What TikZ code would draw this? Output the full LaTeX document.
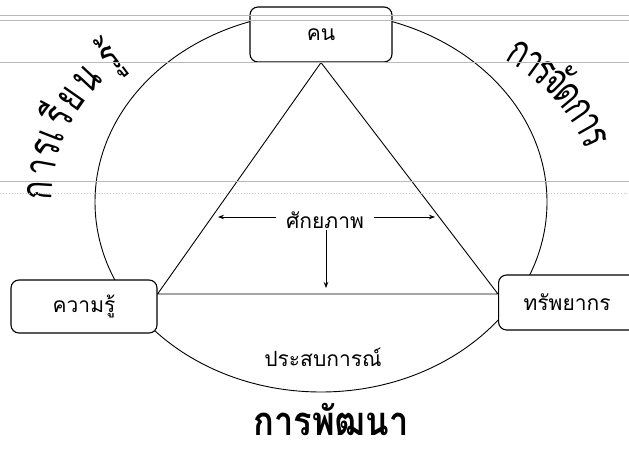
\documentclass[tikz,border=0pt]{standalone}
\usepackage{fontspec}
\newfontfamily\thaifont[Script=Thai]{Loma}
\newfontfamily\thaiwide[Script=Thai,FakeStretch=0.86]{Loma}
\newfontfamily\thainarrow[Script=Thai,FakeStretch=0.7]{Loma}
\usetikzlibrary{arrows.meta, positioning}

\begin{document}
\begin{tikzpicture}[
    x=1pt, y=1pt,
    box/.style={rectangle, draw, rounded corners=8pt, line width=1.1pt, fill=white, minimum width=142pt, minimum height=55pt, align=center, font=\thaifont\fontsize{21}{25}\selectfont},
    lbl/.style={font=\thaifont\fontsize{21}{25}\selectfont},
    arctext/.style={font=\thainarrow\fontsize{44}{50}\selectfont, inner sep=0pt, anchor=base},
    scanline/.style={gray!55, line width=0.9pt},
    >={Stealth[length=6pt, width=4.5pt]}
]
\useasboundingbox (0,0) rectangle (629,448);
\draw[line width=0.9pt] (321,246) ellipse [x radius=226, y radius=190];
\node[box] (person) at (321,413.5) {คน};
\node[box, minimum width=146pt, minimum height=53pt] (know) at (84,141.5) {ความรู้};
\node[box, anchor=west, text width=127pt, inner xsep=25pt, align=left] (res) at (498,145.5) {ทรัพยากร};
\coordinate (knowtip) at ([yshift=12.5pt]know.east);
\coordinate (restip) at ([yshift=8.5pt]res.west);
\draw[line width=0.9pt] (knowtip) -- (person.south) -- (restip) -- cycle;
% label in the middle with its three arrows
\node[lbl, inner xsep=10pt, inner ysep=1pt] (pot) at (325,228) {ศักยภาพ};
\coordinate (potleft) at (218,231);
\coordinate (potright) at (435,231);
\coordinate (potdown) at (326,160);
\draw[->, thick] (pot.west |- potleft) -- (potleft);
\draw[->, thick] (pot.east |- potright) -- (potright);
\draw[->, thick] (pot.south -| potdown) -- (potdown);
\node[lbl] (exp) at (323,91) {ประสบการณ์};
\node[font=\thaiwide\bfseries\fontsize{40}{46}\selectfont, inner sep=0pt, text depth=0pt, anchor=base] (dev) at (331,13) {การพัฒนา};
% text along the two upper arcs
\foreach \ang/\ch [count=\i] in {176.6/ก, 169.5/า, 163/ร, 158.5/เ, 152/รี, 145/ย, 137/น, 127/รู้}
    \node[arctext, rotate=\ang-90] (learn\i) at ([shift={(\ang:165)}]217,247.5) {\ch};
\foreach \ang/\ch [count=\i] in {59.1/ก, 54.1/า, 49.8/ร, 45.2/จั, 40/ด, 34.5/ก, 29.5/า, 25.1/ร}
    \node[arctext, rotate=\ang-90] (manage\i) at ([shift={(\ang:180)}]420,229) {\ch};
% scanner lines
\draw[scanline] (0,433) -- (629,433);
\draw[scanline] (0,428) -- (629,428);
\draw[scanline] (0,386) -- (629,386);
\draw[scanline] (0,267) -- (629,267);
\draw[scanline, dotted, gray!40] (0,255) -- (629,255);
\end{tikzpicture}
\end{document}
